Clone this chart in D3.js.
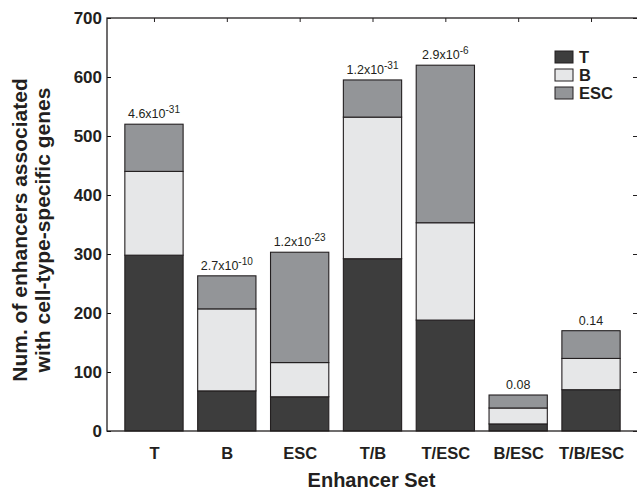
<!DOCTYPE html>
<html>
<head>
<meta charset="utf-8">
<script src="https://cdn.jsdelivr.net/npm/d3@7"></script>
<style>
  body { margin: 0; background: #fff; overflow: hidden; }
  text { font-family: "Liberation Sans", Arial, sans-serif; }
</style>
</head>
<body>
<svg id="chart" width="637" height="490"></svg>
<script>
// data
const sets = ["T", "B", "ESC", "T/B", "T/ESC", "B/ESC", "T/B/ESC"];
const tCounts   = [298, 68, 58, 292, 188, 12, 70];
const bCounts   = [142, 139, 58, 240, 165, 27, 53];
const escCounts = [80, 56, 187, 63, 267, 22, 47];
const pBase = ["4.6x10", "2.7x10", "1.2x10", "1.2x10", "2.9x10", "0.08", "0.14"];
const pExp  = ["-31", "-10", "-23", "-31", "-6", "", ""];
const yTicks = [0, 100, 200, 300, 400, 500, 600, 700];
const keys = ["T", "B", "ESC"];

// right edge of the box sits just outside the picture, as in the original
const margin = {top: 18, right: -1, bottom: 59, left: 107};
const width = 637 - margin.left - margin.right;
const height = 490 - margin.top - margin.bottom;

const rows = sets.map((s, i) => ({set: s, i: i + 1, T: tCounts[i], B: bCounts[i], ESC: escCounts[i]}));
const stacked = d3.stack().keys(keys)(rows);

const svg = d3.select("#chart")
  .append("g")
  .attr("transform", `translate(${margin.left},${margin.top})`);

const xScale = d3.scaleLinear().domain([0.355, 7.645]).range([0, width]);
const yScale = d3.scaleLinear().domain([0, 700]).range([height, 0]);
const cScale = d3.scaleOrdinal().domain(keys).range(["#3d3d3d", "#e6e7e8", "#939598"]);

const barW = (xScale(2) - xScale(1)) * 0.8;

// inner ticks (drawn under the bars, like the original)
svg.append("g")
  .call(d3.axisTop(xScale).tickValues(d3.range(1, 8)).tickSize(-4).tickFormat(""))
  .call(g => g.select(".domain").remove());
svg.append("g")
  .attr("transform", `translate(${width},0)`)
  .call(d3.axisRight(yScale).tickValues(yTicks).tickSize(-5).tickFormat(""))
  .call(g => g.select(".domain").remove());
svg.selectAll(".tick line").attr("stroke", "#231f20");

// bars
svg.append("g")
  .selectAll("g")
  .data(stacked)
  .join("g")
    .attr("fill", d => cScale(d.key))
  .selectAll("rect")
  .data(d => d)
  .join("rect")
    .attr("x", d => xScale(d.data.i) - barW / 2)
    .attr("y", d => yScale(d[1]))
    .attr("width", barW)
    .attr("height", d => yScale(d[0]) - yScale(d[1]))
    .attr("stroke", "#231f20")
    .attr("stroke-width", 1.1);

// left axis
const yAxisG = svg.append("g")
  .call(d3.axisLeft(yScale).tickValues(yTicks).tickSize(-4).tickPadding(5));
yAxisG.selectAll("text")
  .attr("font-size", 17).attr("font-weight", "bold").attr("fill", "#231f20")
  .attr("font-family", "Liberation Sans, Arial, sans-serif");
yAxisG.select(".domain").remove();

// bottom axis labels
const xAxisG = svg.append("g")
  .attr("transform", `translate(0,${height})`)
  .call(d3.axisBottom(xScale).tickValues(d3.range(1, 8)).tickSize(0).tickPadding(16)
    .tickFormat(d => sets[d - 1]));
xAxisG.selectAll("text")
  .attr("font-size", 16.5).attr("font-weight", "bold").attr("fill", "#231f20")
  .attr("font-family", "Liberation Sans, Arial, sans-serif");
xAxisG.select(".domain").remove();

// frame
svg.append("rect")
  .attr("x", 0).attr("y", 0).attr("width", width).attr("height", height)
  .attr("fill", "none").attr("stroke", "#231f20").attr("stroke-width", 1.3);

// p-values above bars
const pLabel = svg.append("g")
  .attr("text-anchor", "middle")
  .attr("font-size", 12.5)
  .attr("fill", "#231f20")
  .selectAll("text")
  .data(rows)
  .join("text")
    .attr("x", d => xScale(d.i))
    .attr("y", d => yScale(d.T + d.B + d.ESC) - 6);
pLabel.append("tspan").text((d, i) => pBase[i]);
pLabel.append("tspan")
  .attr("font-size", 10)
  .attr("dy", -5)
  .text((d, i) => pExp[i]);

// legend
const legend = svg.append("g").attr("transform", `translate(448,33)`);
keys.forEach((k, i) => {
  legend.append("rect")
    .attr("x", 0).attr("y", i * 18).attr("width", 18).attr("height", 12)
    .attr("fill", cScale(k)).attr("stroke", "#231f20").attr("stroke-width", 1);
  legend.append("text")
    .attr("x", 24).attr("y", i * 18 + 11.5)
    .attr("font-size", 16.5).attr("font-weight", "bold").attr("fill", "#231f20")
    .text(k);
});

// axis titles
svg.append("text")
  .attr("x", xScale(4) - 1).attr("y", height + 56)
  .attr("text-anchor", "middle")
  .attr("font-size", 20).attr("font-weight", "bold").attr("fill", "#231f20")
  .text("Enhancer Set");

const yTitle = svg.append("text")
  .attr("transform", `translate(${27 - margin.left},${230 - margin.top}) rotate(-90)`)
  .attr("text-anchor", "middle")
  .attr("font-size", 21).attr("font-weight", "bold").attr("fill", "#231f20");
yTitle.append("tspan").attr("x", 0).attr("dy", 0).text("Num. of enhancers associated");
yTitle.append("tspan").attr("x", 0).attr("dy", 23).text("with cell-type-specific genes");
</script>
</body>
</html>
